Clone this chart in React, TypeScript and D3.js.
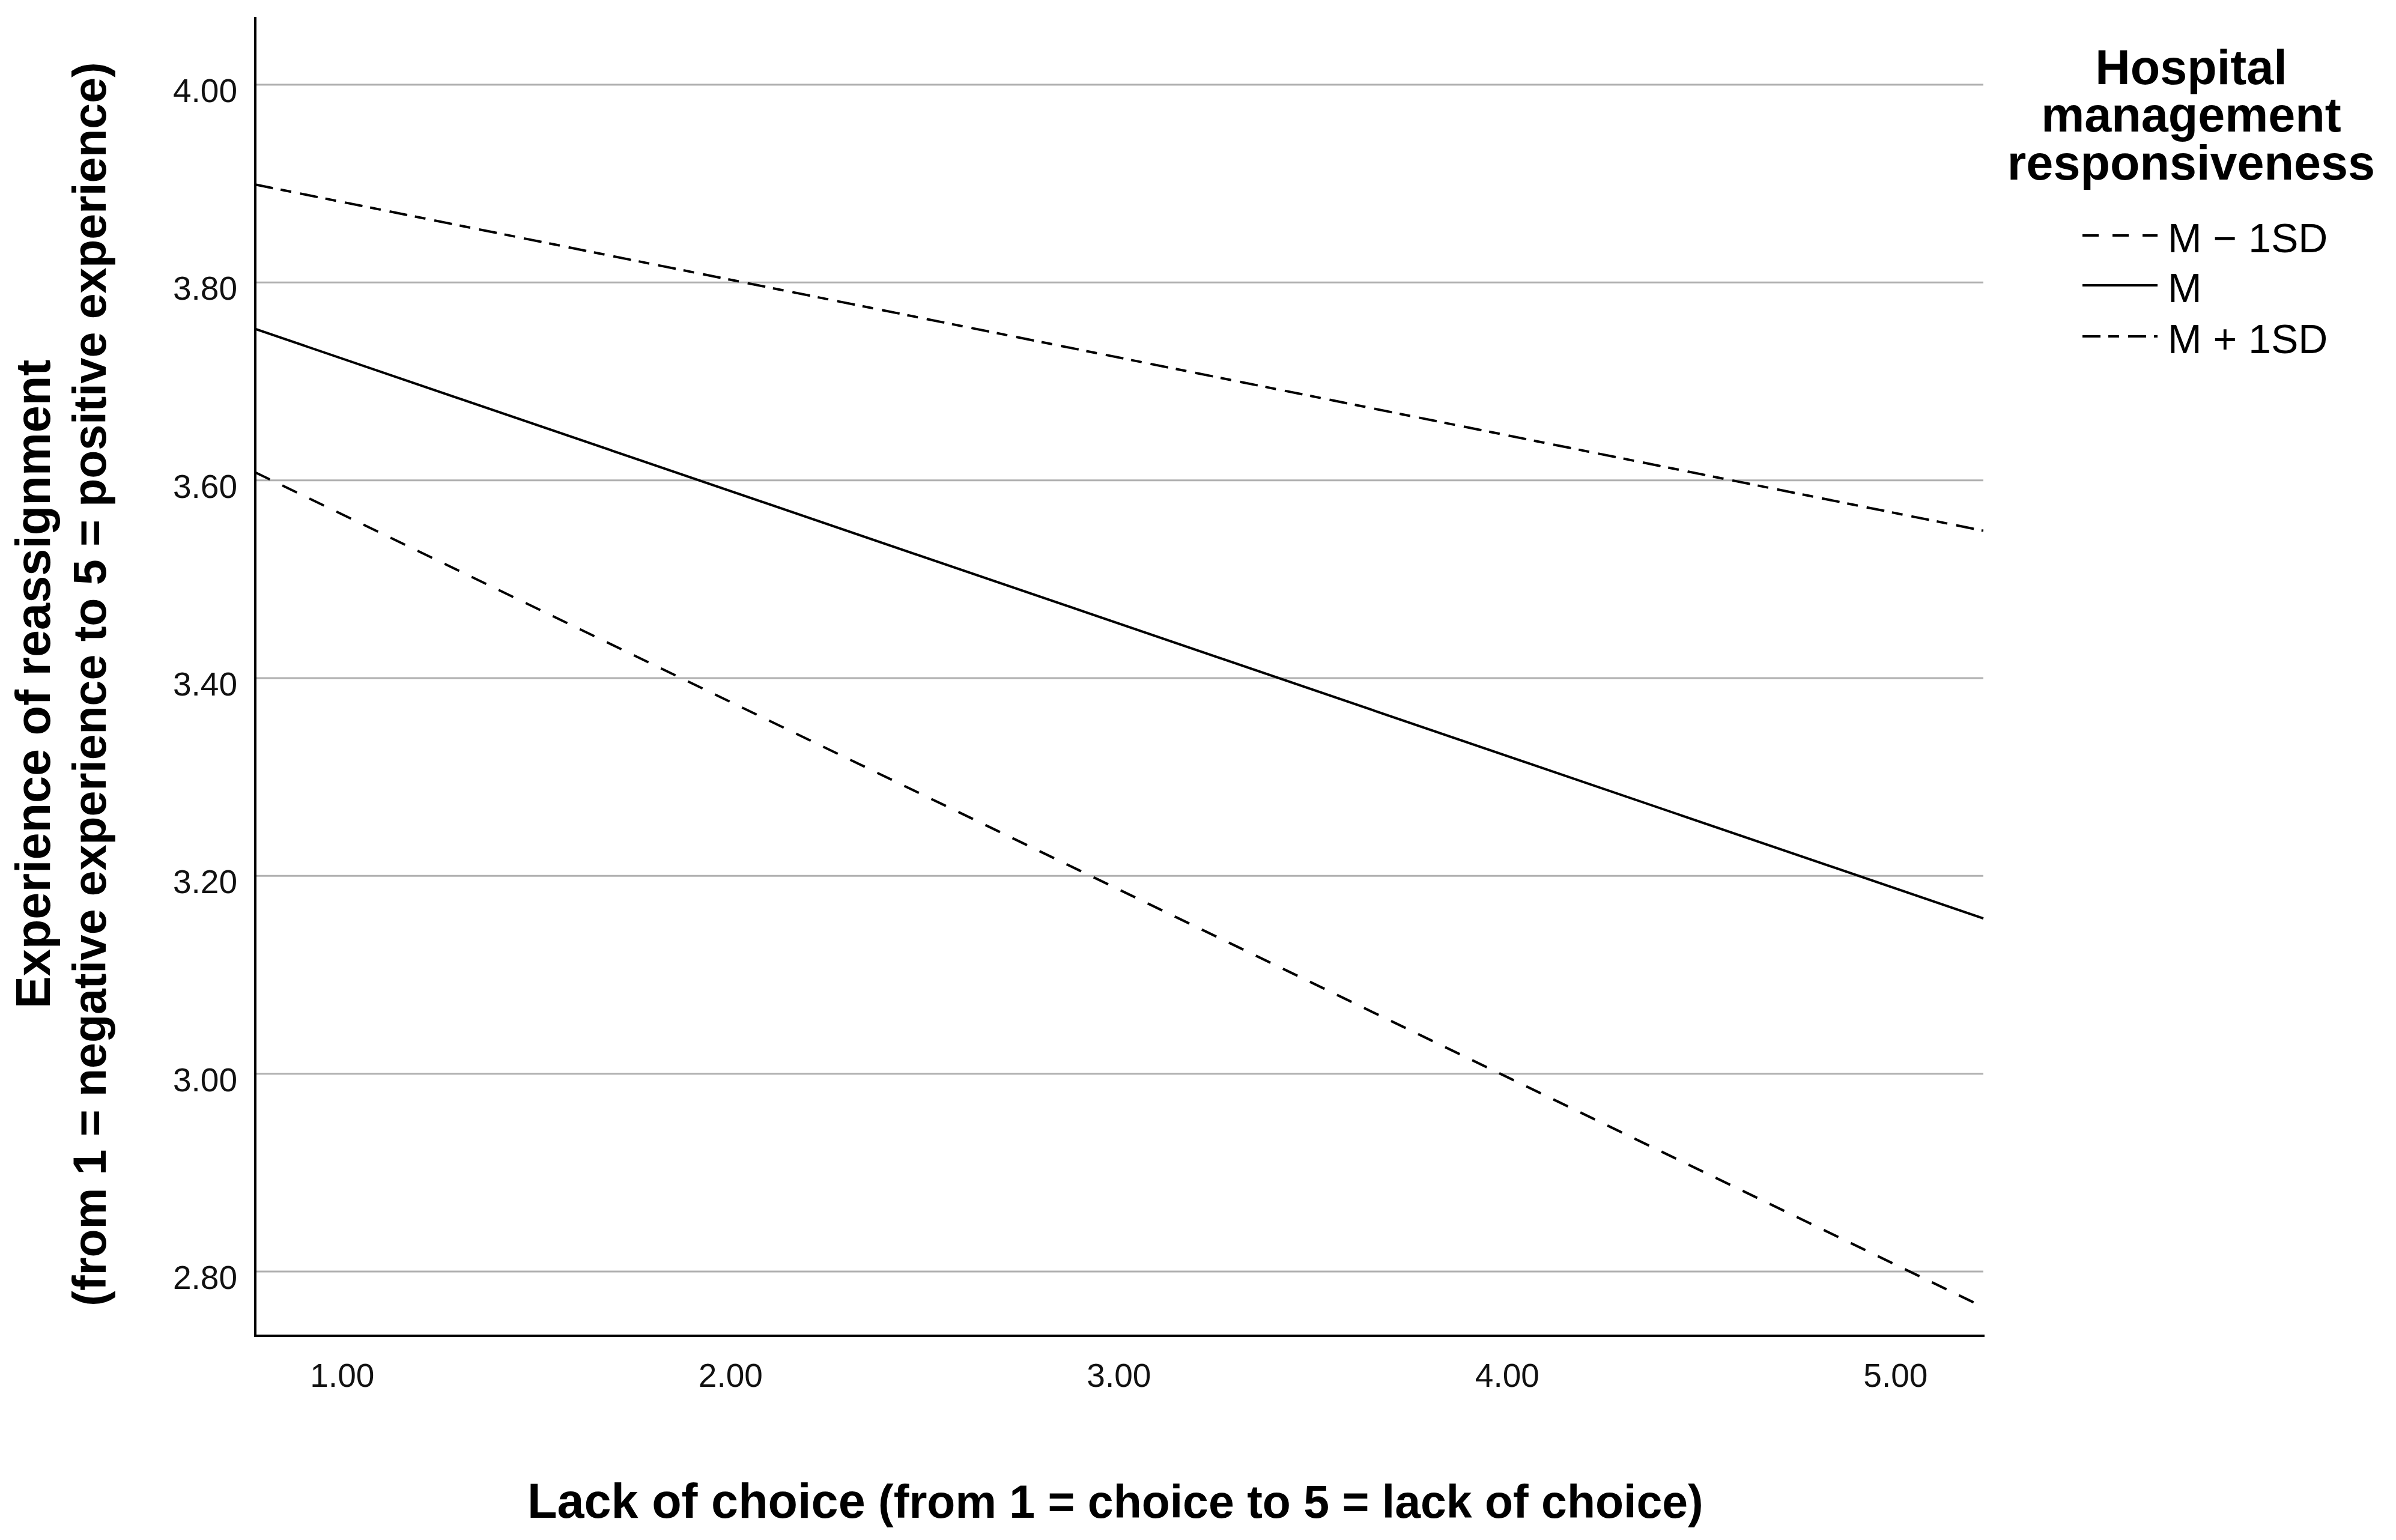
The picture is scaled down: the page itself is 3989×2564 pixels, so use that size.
import React, { useEffect } from "react";
import * as d3 from "d3";

// ---- data ----
const xEndpoints = [0.776, 5.226];
const seriesNames = ["M − 1SD", "M", "M + 1SD"];
const seriesMinus = [3.608, 2.764];
const seriesMean = [3.753, 3.157];
const seriesPlus = [3.899, 3.549];
const yTicks = [2.8, 3.0, 3.2, 3.4, 3.6, 3.8, 4.0];
const xTicks = [1, 2, 3, 4, 5];
const yDomain = [2.735, 4.0686];

const W = 3989;
const H = 2564;
const plot = { left: 425, right: 3302, top: 28, bottom: 2224 };
const FONT = "'Liberation Sans', Arial, Helvetica, sans-serif";

const dashes = ["27,23", "", "30,13,18,15"];

export default function App() {
  useEffect(() => {
    document.body.style.margin = "0";
  }, []);

  const x = d3.scaleLinear().domain([xEndpoints[0], xEndpoints[1]]).range([plot.left, plot.right]);
  const y = d3.scaleLinear().domain(yDomain).range([plot.bottom, plot.top]);
  const line = d3
    .line<number>()
    .x((_, i) => x(xEndpoints[i]))
    .y((v) => y(v));

  const series = [seriesMinus, seriesMean, seriesPlus];
  const legendBaselines = [420, 503, 588];

  return (
    <svg
      width={W}
      height={H}
      viewBox={`0 0 ${W} ${H}`}
      style={{ position: "absolute", left: 0, top: 0, background: "#fff" }}
      fontFamily={FONT}
    >
      <rect x={0} y={0} width={W} height={H} fill="#fff" />
      {/* gridlines */}
      {yTicks.map((t) => (
        <line
          key={"g" + t}
          x1={plot.left}
          x2={plot.right}
          y1={y(t)}
          y2={y(t)}
          stroke="#b0b0b0"
          strokeWidth={3}
        />
      ))}
      {/* y tick labels */}
      {yTicks.map((t) => (
        <text key={"yt" + t} x={395} y={y(t) + 29} textAnchor="end" fontSize={55} fill="#111">
          {t.toFixed(2)}
        </text>
      ))}
      {/* x tick labels */}
      {xTicks.map((t) => (
        <text key={"xt" + t} x={x(t)} y={2309} textAnchor="middle" fontSize={55} fill="#111">
          {t.toFixed(2)}
        </text>
      ))}
      {/* data lines */}
      {series.map((s, i) => (
        <path
          key={"s" + i}
          d={line(s) || ""}
          fill="none"
          stroke="#000"
          strokeWidth={4}
          strokeDasharray={dashes[i] || undefined}
        />
      ))}
      {/* axes */}
      <line x1={plot.left} x2={plot.left} y1={plot.top} y2={plot.bottom + 2} stroke="#000" strokeWidth={4} />
      <line x1={plot.left - 2} x2={plot.right + 2} y1={plot.bottom} y2={plot.bottom} stroke="#000" strokeWidth={4} />
      {/* y title */}
      <g transform={`translate(83,1139) rotate(-90)`}>
        <text textAnchor="middle" fontSize={81} fontWeight="bold" fill="#000">
          Experience of reassignment
        </text>
      </g>
      <g transform={`translate(176,1139) rotate(-90)`}>
        <text textAnchor="middle" fontSize={77} fontWeight="bold" fill="#000">
          (from 1 = negative experience to 5 = positive experience)
        </text>
      </g>
      {/* x title */}
      <text x={878} y={2527} fill="#000" fontWeight="bold">
        <tspan fontSize={81}>Lack of choice</tspan>
        <tspan fontSize={77}> (from 1 = choice to 5 = lack of choice)</tspan>
      </text>
      {/* legend */}
      <text x={3648} y={140} textAnchor="middle" fontSize={81} fontWeight="bold" fill="#000">
        Hospital
      </text>
      <text x={3648} y={219} textAnchor="middle" fontSize={81} fontWeight="bold" fill="#000">
        management
      </text>
      <text x={3648} y={299} textAnchor="middle" fontSize={81} fontWeight="bold" fill="#000">
        responsiveness
      </text>
      {seriesNames.map((n, i) => (
        <g key={"l" + i}>
          <line
            x1={3467}
            x2={3592}
            y1={legendBaselines[i] - 28}
            y2={legendBaselines[i] - 28}
            stroke="#000"
            strokeWidth={4}
            strokeDasharray={dashes[i] || undefined}
          />
          <text x={3609} y={legendBaselines[i]} fontSize={68} fill="#000">
            {n}
          </text>
        </g>
      ))}
    </svg>
  );
}
